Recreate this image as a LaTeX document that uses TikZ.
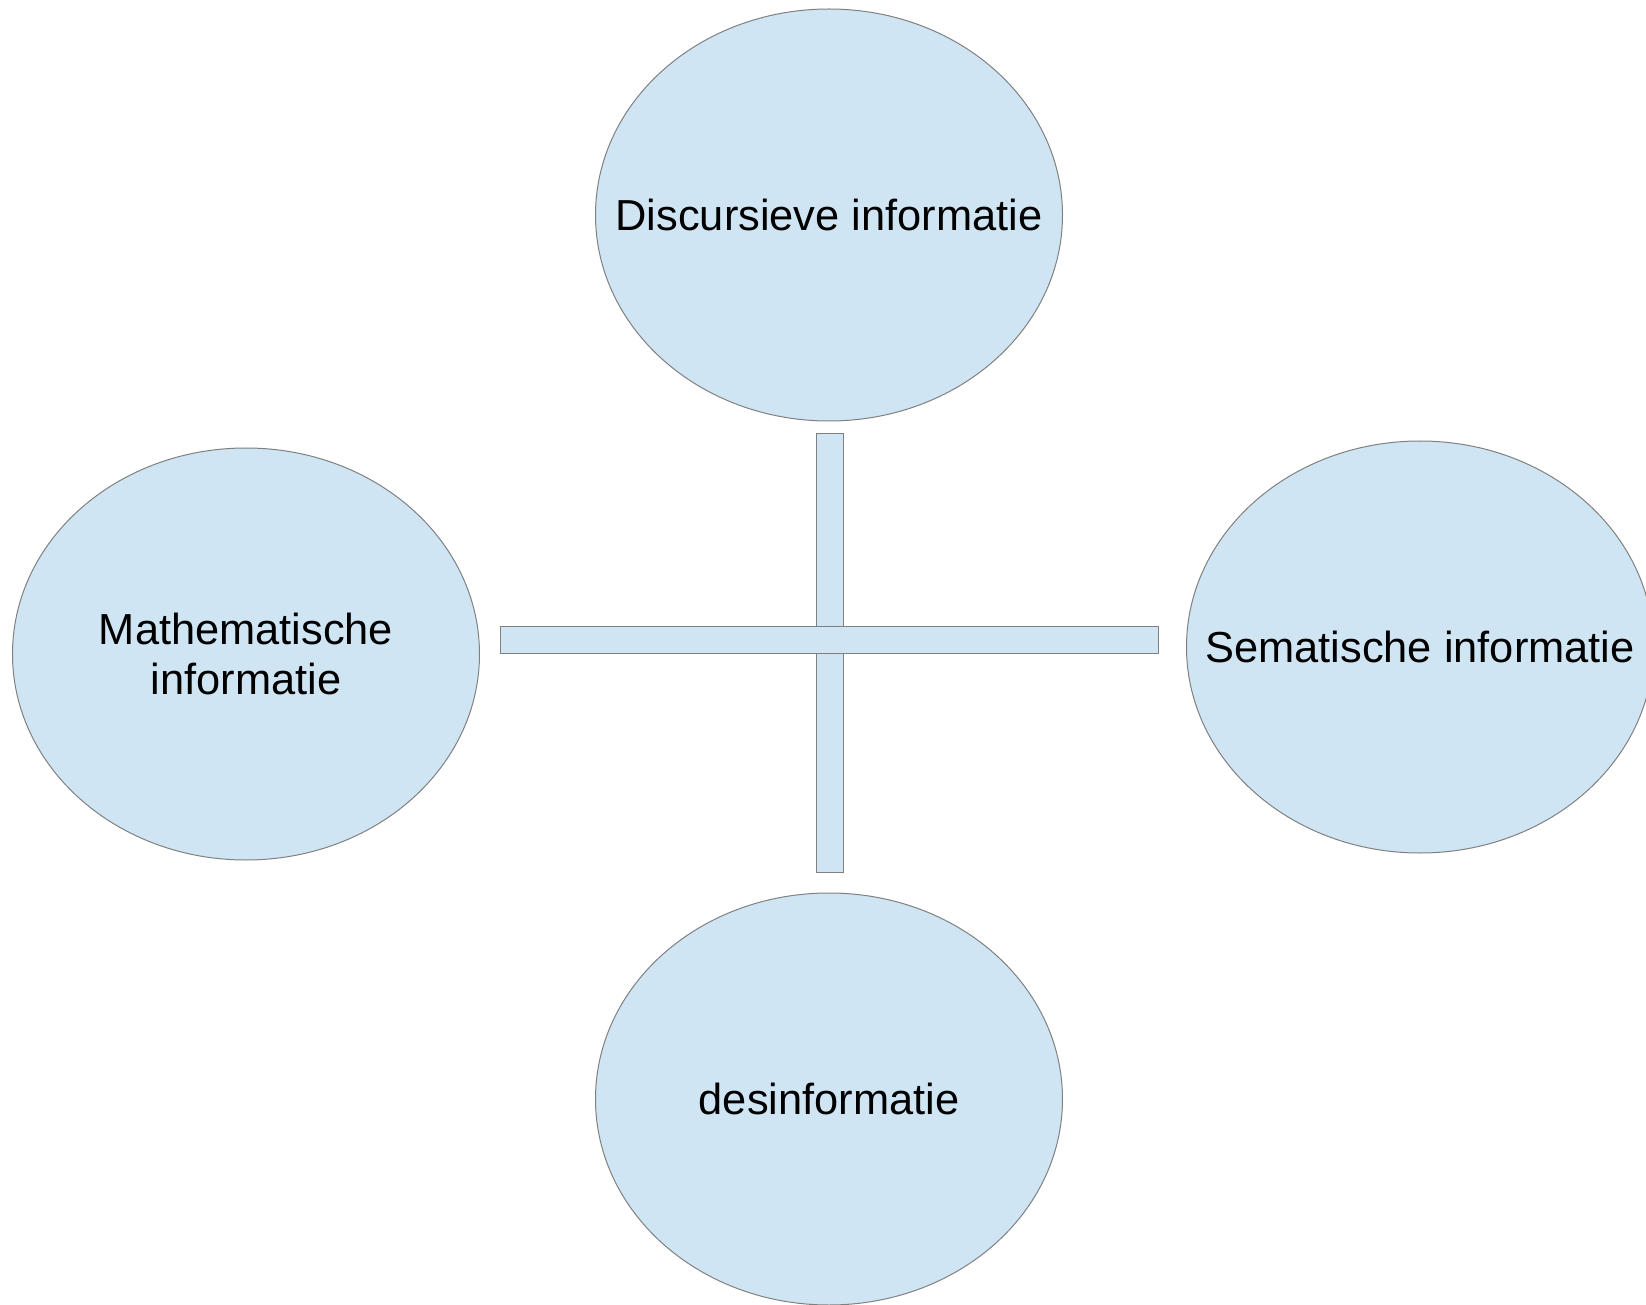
\documentclass[tikz,border=0pt]{standalone}
\usepackage{fontspec}
\setmainfont{Liberation Sans}
\usepackage{tikz}
\usetikzlibrary{shapes,positioning}
\definecolor{bubble}{HTML}{CFE5F3}
\definecolor{rim}{HTML}{808080}
\tikzstyle{textonly} = [draw=none, fill=none, text centered, align=center, font=\fontsize{21.7}{25.2}\selectfont]
\tikzstyle{bubblebox} = [ellipse, draw=rim, line width=0.5pt, fill=bubble, minimum width=233.5pt, minimum height=206pt, inner sep=0pt]
\tikzstyle{barbox} = [rectangle, draw=rim, line width=0.5pt, fill=bubble, inner sep=0pt]

\begin{document}
\begin{tikzpicture}[x=0.5pt, y=-0.5pt]
\useasboundingbox (0,0) rectangle (1646,1305);

\node[bubblebox] (discursief) at (829,215) {};
\node[bubblebox] (mathematisch) at (246,654) {};
\node[bubblebox] (sematisch) at (1420,647) {};
\node[bubblebox] (desinfo) at (829,1099) {};

\node[textonly] at (discursief) {Discursieve informatie};
\node[textonly] at (mathematisch) {Mathematische\\informatie};
\node[textonly] at (sematisch) {Sematische informatie};
\node[textonly] at (desinfo) {desinformatie};

\node[barbox, minimum width=13.5pt, minimum height=219pt] (vbar) at (829.5,653) {};
\node[barbox, minimum width=329pt, minimum height=13.5pt] (hbar) at (829,639.5) {};

\end{tikzpicture}
\end{document}
